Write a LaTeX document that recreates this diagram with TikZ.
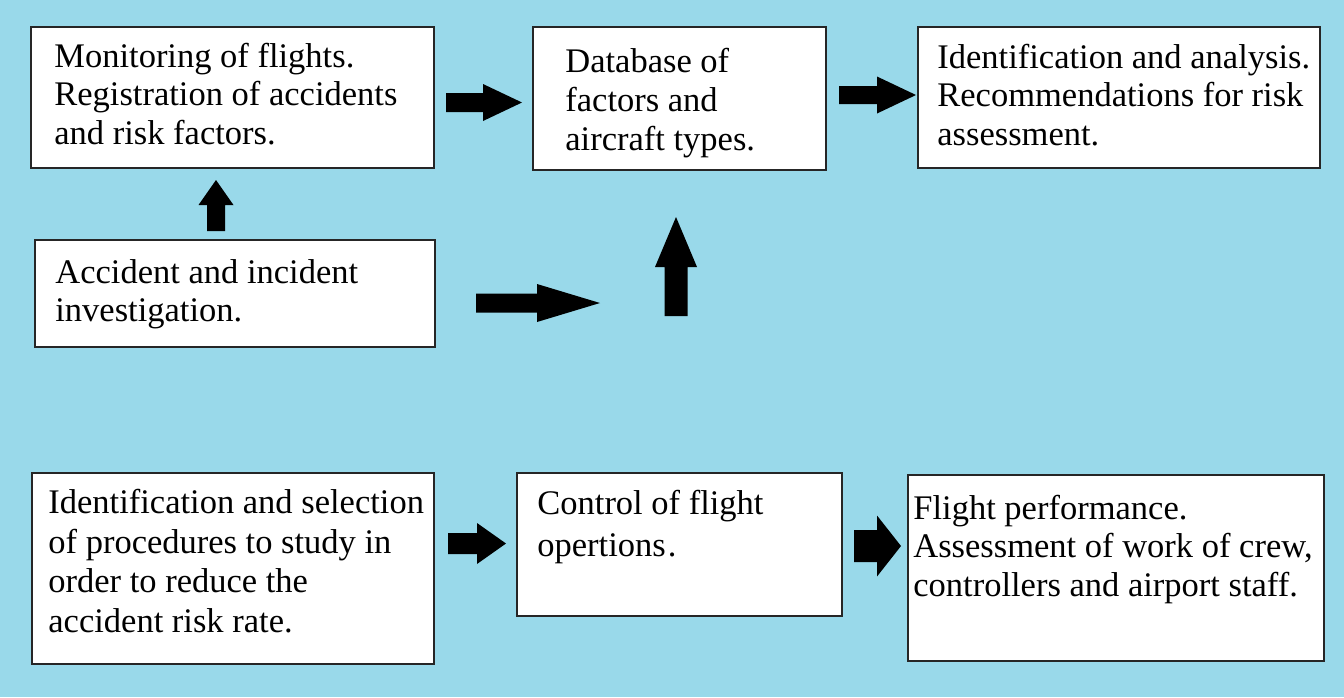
\documentclass[tikz,border=0pt]{standalone}
\usepackage{fontspec}
\setmainfont{Liberation Serif}
\usetikzlibrary{fit}
\definecolor{sky}{HTML}{99D9EA}
\definecolor{rim}{HTML}{262626}

% filled block arrows: right-pointing and up-pointing
\newcommand{\blockright}[6]{% tail x, head base x, tip x, centre y, half shaft, half head
  \fill[blk] (#1,#4-#5) -- (#2,#4-#5) -- (#2,#4-#6) -- (#3,#4) -- (#2,#4+#6)
    -- (#2,#4+#5) -- (#1,#4+#5) -- cycle;}
\newcommand{\blockup}[6]{% centre x, tail y, head base y, tip y, half shaft, half head
  \fill[blk] (#1-#5,#2) -- (#1-#5,#3) -- (#1-#6,#3) -- (#1,#4) -- (#1+#6,#3)
    -- (#1+#5,#3) -- (#1+#5,#2) -- cycle;}

\begin{document}
\begin{tikzpicture}[x=0.5pt,y=-0.5pt,
  panel/.style={draw=rim, line width=0.9pt, fill=white, inner sep=0pt},
  % texts are placed by the baseline of their last line
  label/.style={anchor=base west, inner sep=0pt, align=left, text=black,
    font=\fontsize{17.25}{19.4}\selectfont},
  blk/.style={fill=black}]

% background
\fill[sky] (0,0) rectangle (1344,697);
\useasboundingbox (0,0) rectangle (1344,697);

% boxes
\node[panel, fit={(31,27) (434,168)}] (b1) {};
\node[panel, fit={(533,27) (826,170)}] (b2) {};
\node[panel, fit={(918,27) (1320,168)}] (b3) {};
\node[panel, fit={(35,240) (435,347)}] (b4) {};
\node[panel, fit={(32,473) (434,664)}] (b5) {};
\node[panel, fit={(517,473) (842,616)}] (b6) {};
\node[panel, fit={(908,475) (1324,661)}] (b7) {};

% texts
\node[label] (t1) at (54,144.6) {Monitoring of flights.\\Registration of accidents\\and risk factors.};
\node[label] (t2) at (565,150) {Database of\\factors and\\aircraft types.};
\node[label] (t3) at (937,145.6) {Identification and analysis.\\Recommendations for risk\\assessment.};
\node[label] (t4) at (55,321.8) {Accident and incident\\investigation.};
\node[label, font=\fontsize{17.25}{19.7}\selectfont] (t5) at (48,632) {Identification and selection\\of procedures to study in\\order to reduce the\\accident risk rate.};
\node[label, font=\fontsize{17.25}{21}\selectfont] (t6) at (537,556) {Control of flight\\opertions\kern1pt.};
\node[label] (t7) at (913,596.6) {Flight performance.\\Assessment of work of crew,\\controllers and airport staff.};

% arrows
\blockright{446}{483}{522}{102.5}{9.5}{18.5}
\blockright{839}{877}{916}{95}{9}{18.5}
\blockup{216}{231}{205}{180}{9}{17.5}
\blockright{476}{537}{600}{303}{9.5}{19}
\blockup{676}{316}{267}{217}{11.5}{21}
\blockright{448}{477}{506}{543.5}{10.5}{20.5}
\blockright{854}{877}{901}{546}{16}{30.5}
\end{tikzpicture}
\end{document}
